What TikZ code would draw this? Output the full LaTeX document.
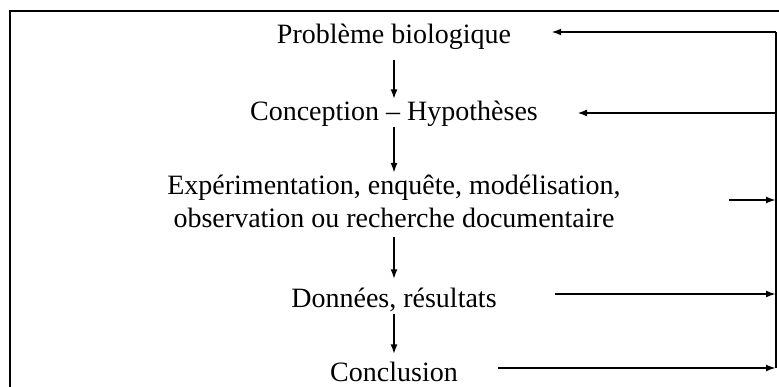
\documentclass[tikz,border=0pt]{standalone}
\usepackage{fontspec}
\setmainfont{Liberation Serif}
\usetikzlibrary{arrows.meta}

\tikzset{
    step text/.style={anchor=base, inner sep=0pt, align=center,
        font=\fontsize{28}{33}\selectfont},
    down/.style={line width=2pt, -{Latex[length=10pt,width=7pt]}},
    fb/.style={line width=2pt, -{Latex[length=10pt,width=7pt]}},
}

\begin{document}
\begin{tikzpicture}[x=1pt, y=-1pt]
    \useasboundingbox (0,0) rectangle (779,387);
    \clip (0,0) rectangle (779,387);

% frame
    \draw[line width=1.8pt] (10,11) rectangle (800,400);

% steps
    \node[step text] (prob) at (394,44) {Problème biologique};
    \node[step text] (conc) at (394,121) {Conception -- Hypothèses};
    \node[step text, anchor=north] (exp) at (394,175)
        {Expérimentation, enquête, modélisation,\\observation ou recherche documentaire};
    \node[step text] (donn) at (394,308) {Données, résultats};
    \node[step text] (concl) at (394,381) {Conclusion};

% main chain
    \draw[down, shorten <=10pt, shorten >=2pt] (prob.south) -- (conc.north);
    \draw[down, shorten <=0pt, shorten >=2pt] (conc.south) -- (exp.north);
    \draw[down, shorten <=9pt, shorten >=9pt] (exp.south) -- (donn.north);
    \draw[down, shorten <=1pt, shorten >=7pt] (donn.south) -- (concl.north);

% feedback bus
    \coordinate (b1) at (776,32);
    \coordinate (b2) at (776,113);
    \coordinate (b3) at (776,200);
    \coordinate (b4) at (776,294);
    \coordinate (b5) at (776,368);
    \draw[line width=2pt] (b1) -- (b5);

% back to the problem and the hypotheses
    \draw[fb, shorten >=40pt] (b1) -- (b1 -| prob.east);
    \draw[fb, shorten >=39pt] (b2) -- (b2 -| conc.east);
% out to the bus
    \draw[fb, shorten <=108pt] (b3 -| exp.east) -- (b3);
    \draw[fb, shorten <=58pt] (b4 -| donn.east) -- (b4);
    \draw[fb, shorten <=40pt] (b5 -| concl.east) -- (b5);
\end{tikzpicture}
\end{document}
